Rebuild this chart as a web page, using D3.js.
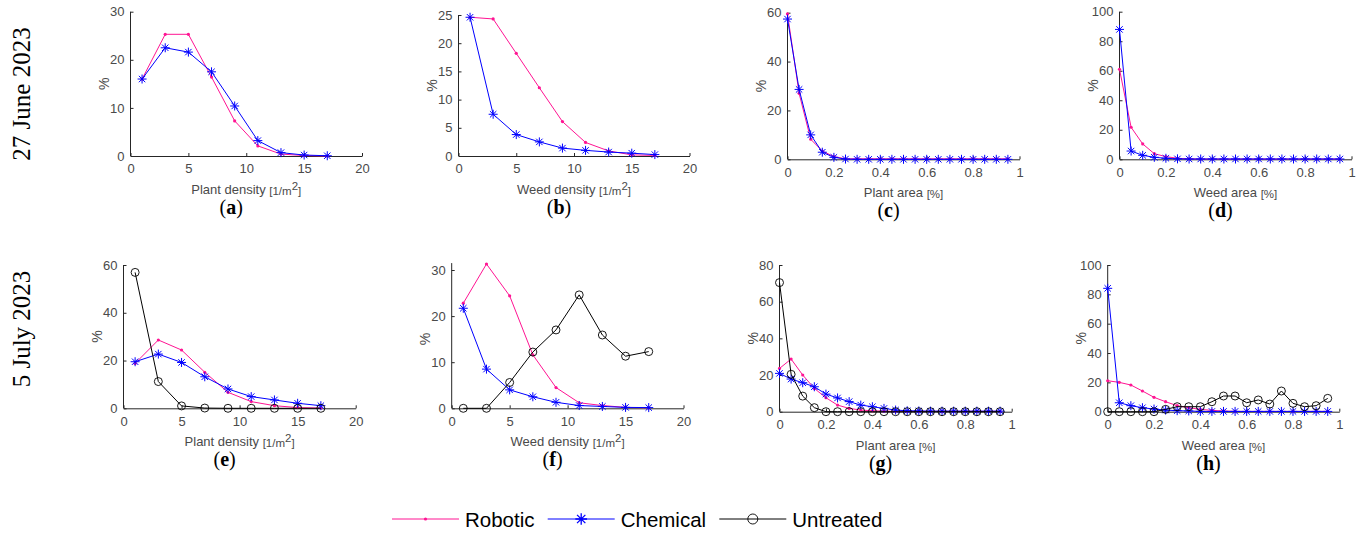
<!DOCTYPE html>
<html>
<head>
<meta charset="utf-8">
<title>Plant and weed distributions</title>
<style>
body { margin: 0; background: #fff; }
svg { display: block; }
</style>
</head>
<body>
<div id="container"></div>
<script src="https://d3js.org/d3.v7.min.js"></script>
<script>
// x categories
const xDensity = [1, 3, 5, 7, 9, 11, 13, 15, 17];
const xArea = [0, 0.05, 0.1, 0.15, 0.2, 0.25, 0.3, 0.35, 0.4, 0.45, 0.5, 0.55, 0.6, 0.65, 0.7, 0.75, 0.8, 0.85, 0.9, 0.95];

// 27 June 2023
const aRobotic  = [16.0, 25.3, 25.3, 16.4, 7.3, 2.1, 0.4, 0.1, 0.0];
const aChemical = [16.0, 22.5, 21.6, 17.5, 10.4, 3.2, 0.7, 0.2, 0.05];
const bRobotic  = [24.6, 24.3, 18.2, 12.1, 6.1, 2.4, 0.9, 0.2, 0.1];
const bChemical = [24.6, 7.4, 3.8, 2.5, 1.4, 1.0, 0.7, 0.5, 0.25];
const cRobotic  = [59.5, 27.0, 8.2, 3.4, 1.1, 0.2, 0.2, 0.2, 0.2, 0.2, 0.2, 0.2, 0.2, 0.2, 0.2, 0.2, 0.2, 0.2, 0.2, 0.2];
const cChemical = [57.4, 28.6, 10.0, 2.9, 0.8, 0.1, 0, 0, 0, 0, 0, 0, 0, 0, 0, 0, 0, 0, 0, 0];
const dRobotic  = [61.0, 21.7, 10.4, 3.8, 1.8, 0.7, 0.3, 0.2, 0.2, 0.2, 0.2, 0.2, 0.2, 0.2, 0.2, 0.2, 0.2, 0.2, 0.2, 0.2];
const dChemical = [88.0, 5.6, 2.7, 1.35, 0.7, 0.3, 0.2, 0.2, 0.2, 0.2, 0.2, 0.2, 0.2, 0.2, 0.2, 0.2, 0.2, 0.2, 0.2, 0.2];

// 5 July 2023
const eRobotic   = [18.8, 28.6, 24.4, 15.1, 6.7, 2.8, 1.1, 0.3, 0.1];
const eChemical  = [19.5, 22.7, 19.2, 13.2, 8.1, 4.9, 3.5, 2.1, 1.1];
const eUntreated = [56.9, 11.2, 1.0, 0.1, 0, 0, 0, 0, 0];
const fRobotic   = [22.8, 31.3, 24.4, 11.6, 4.5, 1.2, 0.6, 0.2, 0.1];
const fChemical  = [21.7, 8.5, 4.0, 2.5, 1.3, 0.6, 0.4, 0.2, 0.15];
const fUntreated = [0, 0, 5.6, 12.2, 17.0, 24.6, 15.9, 11.3, 12.3];
const gRobotic   = [23.6, 28.7, 20.0, 12.7, 7.6, 3.6, 1.8, 0.9, 0.5, 0.3, 0.2, 0.2, 0.2, 0.2, 0.2, 0.2, 0.2, 0.2, 0.2, 0.2];
const gChemical  = [20.9, 17.8, 15.8, 13.6, 9.6, 7.5, 5.5, 3.6, 2.7, 1.8, 0.9, 0.5, 0.4, 0.3, 0.3, 0.3, 0.3, 0.3, 0.3, 0.3];
const gUntreated = [70.4, 20.4, 8.5, 2.2, 0, 0, 0, 0, 0, 0, 0, 0, 0, 0, 0, 0, 0, 0, 0, 0];
const hRobotic   = [21.1, 20.0, 18.2, 14.1, 9.8, 6.8, 4.1, 2.7, 1.6, 0.9, 0.5, 0.2, 0.2, 0.2, 0.2, 0.2, 0.2, 0.2, 0.2, 0.2];
const hChemical  = [84.1, 6.1, 4.1, 2.7, 1.8, 1.1, 0.7, 0.5, 0.2, 0.2, 0.2, 0.2, 0.2, 0.2, 0.2, 0.2, 0.2, 0.2, 0.2, 0.2];
const hUntreated = [0, 0, 0, 0, 0, 1.6, 3.4, 3.4, 3.4, 6.8, 10.7, 10.7, 6.1, 8.0, 5.2, 14.1, 5.7, 3.4, 4.1, 9.1];

// tick labels
const densityTicks = [0, 5, 10, 15, 20];
const areaTicks = [0, 0.2, 0.4, 0.6, 0.8, 1];

const rowLabels = ["27 June 2023", "5 July 2023"];
const seriesNames = ["Robotic", "Chemical", "Untreated"];
const seriesColors = {Robotic: "#ff1493", Chemical: "#0000ff", Untreated: "#000000"};

const width = 1369;
const height = 539;

const panels = [
  {id: "a", xs: xDensity, xt: densityTicks, xmax: 20, ymax: 30, yt: [0, 10, 20, 30], label: "Plant density",
   series: {Robotic: aRobotic, Chemical: aChemical}, box: [130.5, 362, 11.7, 156]},
  {id: "b", xs: xDensity, xt: densityTicks, xmax: 20, ymax: 25, yt: [0, 5, 10, 15, 20, 25], label: "Weed density",
   series: {Robotic: bRobotic, Chemical: bChemical}, box: [458.5, 689.5, 15, 156]},
  {id: "c", xs: xArea, xt: areaTicks, xmax: 1, ymax: 60, yt: [0, 20, 40, 60], label: "Plant area",
   series: {Robotic: cRobotic, Chemical: cChemical}, box: [787.5, 1019.5, 12.7, 159.3]},
  {id: "d", xs: xArea, xt: areaTicks, xmax: 1, ymax: 100, yt: [0, 20, 40, 60, 80, 100], label: "Weed area",
   series: {Robotic: dRobotic, Chemical: dChemical}, box: [1119.5, 1351.5, 11.7, 159.3]},
  {id: "e", xs: xDensity, xt: densityTicks, xmax: 20, ymax: 60, yt: [0, 20, 40, 60], label: "Plant density",
   series: {Robotic: eRobotic, Chemical: eChemical, Untreated: eUntreated}, box: [123.5, 355.7, 265, 408.3]},
  {id: "f", xs: xDensity, xt: densityTicks, xmax: 20, ymax: 30, yt: [0, 10, 20, 30], label: "Weed density",
   series: {Robotic: fRobotic, Chemical: fChemical, Untreated: fUntreated}, box: [451.7, 683.5, 270, 408.3], top: 31.5},
  {id: "g", xs: xArea, xt: areaTicks, xmax: 1, ymax: 80, yt: [0, 20, 40, 60, 80], label: "Plant area",
   series: {Robotic: gRobotic, Chemical: gChemical, Untreated: gUntreated}, box: [779.5, 1011.7, 265, 411.7]},
  {id: "h", xs: xArea, xt: areaTicks, xmax: 1, ymax: 100, yt: [0, 20, 40, 60, 80, 100], label: "Weed area",
   series: {Robotic: hRobotic, Chemical: hChemical, Untreated: hUntreated}, box: [1107.7, 1339.3, 265, 411.7]}
];

const svg = d3.create("svg")
    .attr("width", width)
    .attr("height", height)
    .attr("font-family", "'Liberation Sans', Arial, sans-serif");

const axisColor = "#262626";
const tickColor = "#4a4a4a";

// marker drawers
function drawMarker(g, name, color) {
  if (name === "Robotic") {
    g.append("circle").attr("r", 1.6).attr("fill", color);
  } else if (name === "Chemical") {
    const s = 4.5, d = 3.2;
    g.append("path")
      .attr("d", `M${-s},0L${s},0M0,${-s}L0,${s}M${-d},${-d}L${d},${d}M${-d},${d}L${d},${-d}`)
      .attr("stroke", color).attr("stroke-width", 1).attr("fill", "none");
  } else {
    g.append("circle").attr("r", 4).attr("fill", "none").attr("stroke", color).attr("stroke-width", 0.9);
  }
}

panels.forEach(p => {
  const [x0, x1, yTop, yBot] = p.box;
  const x = d3.scaleLinear().domain([0, p.xmax]).range([x0, x1]);
  const y = d3.scaleLinear().domain([0, p.ymax]).range([yBot, yTop]);
  const g = svg.append("g");

  // axes (MATLAB-like: inward ticks, left + bottom only)
  const topY = p.top ? y(p.top) : yTop;
  const xAxis = g.append("g")
      .attr("transform", `translate(0,${yBot})`)
      .call(d3.axisBottom(x).tickValues(p.xt).tickSize(-3).tickSizeOuter(0).tickPadding(8)
        .tickFormat(d => d3.format("~g")(d)));
  const yAxis = g.append("g")
      .attr("transform", `translate(${x0},0)`)
      .call(d3.axisLeft(y).tickValues(p.yt).tickSize(-3).tickSizeOuter(0).tickPadding(6));
  yAxis.select(".domain").attr("d", `M0,${yBot}V${topY}`);
  [xAxis, yAxis].forEach(a => {
    a.select(".domain").attr("stroke", axisColor);
    a.selectAll(".tick line").attr("stroke", axisColor);
    a.selectAll(".tick text").attr("fill", tickColor).attr("font-size", 13);
  });

  // series
  seriesNames.forEach(name => {
    const vals = p.series[name];
    if (!vals) return;
    const pts = p.xs.map((xv, i) => [xv, vals[i]]);
    const color = seriesColors[name];
    g.append("path")
      .attr("fill", "none")
      .attr("stroke", color)
      .attr("stroke-width", 1)
      .attr("d", d3.line().x(d => x(d[0])).y(d => y(d[1]))(pts));
    pts.forEach(d => {
      const m = g.append("g").attr("transform", `translate(${x(d[0])},${y(d[1])})`);
      drawMarker(m, name, color);
    });
  });

  // axis labels
  const xl = g.append("text")
      .attr("x", (x0 + x1) / 2)
      .attr("y", yBot + 38)
      .attr("text-anchor", "middle")
      .attr("font-size", 13)
      .attr("fill", tickColor);
  xl.append("tspan").text(p.label + " ");
  if (p.xmax === 20) {
    xl.append("tspan").attr("font-size", 11.5).attr("dy", 1).text("[1/m");
    xl.append("tspan").attr("dy", -5).attr("font-size", 11.5).text("2");
    xl.append("tspan").attr("dy", 5).attr("font-size", 11.5).text("]");
  } else {
    xl.append("tspan").attr("font-size", 11.5).attr("dy", 1).text("[%]");
  }
  g.append("text")
      .attr("transform", `translate(${x0 - 22},${(yTop + yBot) / 2}) rotate(-90)`)
      .attr("text-anchor", "middle")
      .attr("font-size", 14)
      .attr("fill", tickColor)
      .text("%");

  // panel label (a) ...
  const pl = svg.append("text")
      .attr("x", (x0 + x1) / 2 - 15)
      .attr("y", yBot + 58)
      .attr("text-anchor", "middle")
      .attr("font-family", "'Liberation Serif', 'Times New Roman', serif")
      .attr("font-size", 20)
      .attr("fill", "#000");
  pl.append("tspan").text("(");
  pl.append("tspan").attr("font-weight", "bold").text(p.id);
  pl.append("tspan").text(")");
});

// row labels
[94, 329].forEach((cy, i) => {
  svg.append("text")
    .attr("transform", `translate(30,${cy}) rotate(-90)`)
    .attr("text-anchor", "middle")
    .attr("font-family", "'Liberation Serif', 'Times New Roman', serif")
    .attr("font-size", 25)
    .attr("fill", "#000")
    .text(rowLabels[i]);
});

// legend
const legendX = [392, 547.7, 719.3];
const legendY = 519;
seriesNames.forEach((name, i) => {
  const lx = legendX[i];
  const color = seriesColors[name];
  const lg = svg.append("g");
  lg.append("line")
    .attr("x1", lx).attr("x2", lx + 67)
    .attr("y1", legendY).attr("y2", legendY)
    .attr("stroke", color).attr("stroke-width", 1);
  const m = lg.append("g").attr("transform", `translate(${lx + 33.5},${legendY})`);
  drawMarker(m, name, color);
  if (name === "Untreated") m.select("circle").attr("r", 5);
  if (name === "Chemical") m.attr("transform", `translate(${lx + 33.5},${legendY}) scale(1.3)`);
  lg.append("text")
    .attr("x", lx + 73)
    .attr("y", legendY + 7.5)
    .attr("font-size", 20.5)
    .attr("fill", "#000")
    .text(name);
});

document.getElementById("container").append(svg.node());
</script>
</body>
</html>
